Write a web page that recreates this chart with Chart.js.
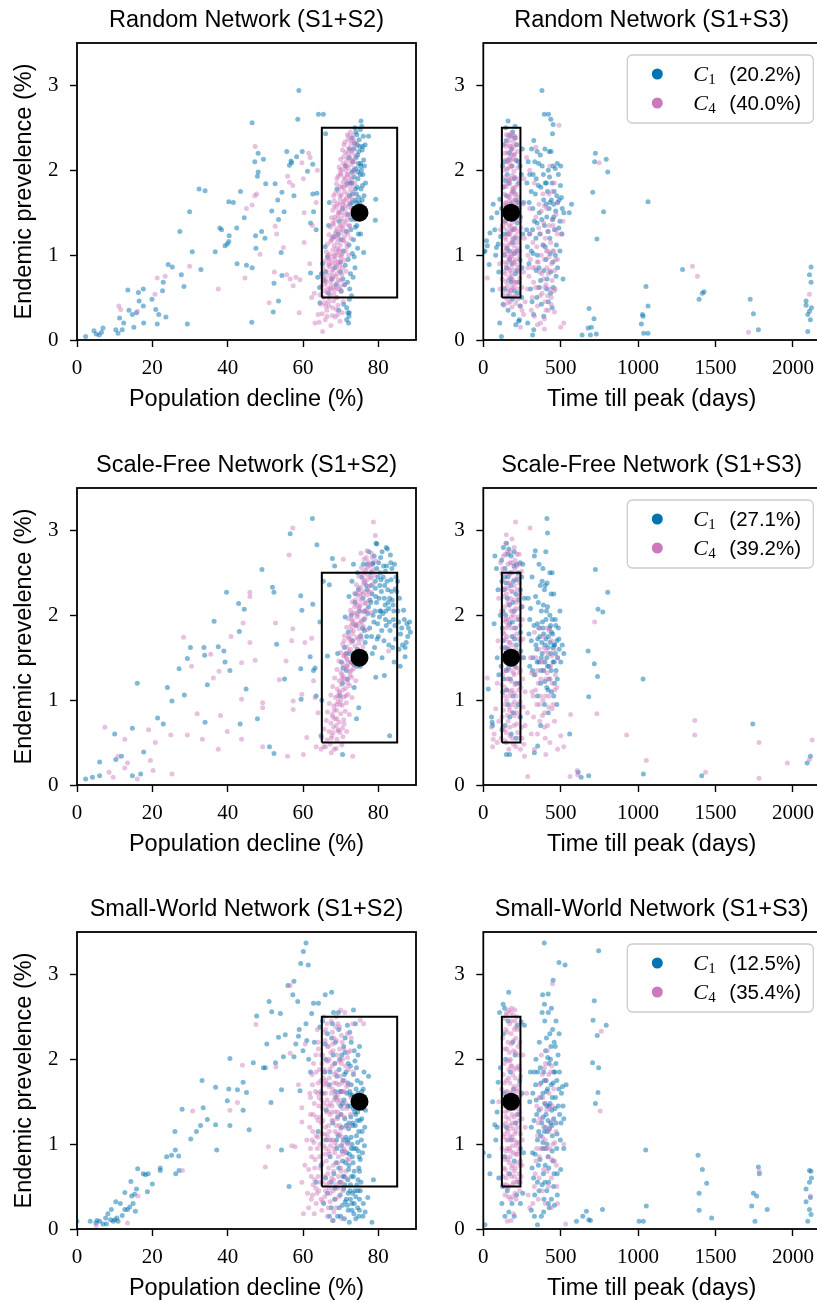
<!DOCTYPE html>
<html><head><meta charset="utf-8">
<script src="https://cdn.jsdelivr.net/npm/chart.js@4/dist/chart.umd.min.js"></script>
<style>
html,body{margin:0;padding:0;background:#fff;overflow:hidden;width:817px;height:1302px;position:relative;}
canvas{position:absolute;display:block;}
</style></head><body>
<canvas id="c0" width="420" height="444" style="left:0;top:0;width:420px;height:444px"></canvas>
<canvas id="c1" width="410" height="444" style="left:410px;top:0;width:410px;height:444px"></canvas>
<canvas id="c2" width="420" height="444" style="left:0;top:445px;width:420px;height:444px"></canvas>
<canvas id="c3" width="410" height="444" style="left:410px;top:445px;width:410px;height:444px"></canvas>
<canvas id="c4" width="420" height="444" style="left:0;top:889px;width:420px;height:444px"></canvas>
<canvas id="c5" width="410" height="444" style="left:410px;top:889px;width:410px;height:444px"></canvas>
<script>
// ---------- tick labels, boxes, targets ----------
const xTicksDecline = [0,20,40,60,80];
const xTicksDays = [0,500,1000,1500,2000];
const yTicks = [0,1,2,3];
const boxDecline = [[65,0.5],[85,0.5],[85,2.5],[65,2.5],[65,0.5]];
const boxDays = [[120,0.5],[240,0.5],[240,2.5],[120,2.5],[120,0.5]];
const targetDecline = [[75,1.5]];
const targetDays = [[180,1.5]];
const titles = ['Random Network (S1+S2)','Random Network (S1+S3)','Scale-Free Network (S1+S2)','Scale-Free Network (S1+S3)','Small-World Network (S1+S2)','Small-World Network (S1+S3)'];
const legendRandom = ['20.2%','40.0%'];
const legendScaleFree = ['27.1%','39.2%'];
const legendSmallWorld = ['12.5%','35.4%'];

// ---------- Random network, S1+S2 ----------
const rndS2_C1 = [[2.3,0.04],[4.5,0.11],[5.1,0.07],[5.9,0.06],[6.5,0.09],[6.9,0.14],[10.3,0.12],[10.9,0.08],[12.0,0.12],[11.3,0.26],[12.4,0.2],[13.5,0.59],[13.8,0.35],[14.7,0.3],[15.1,0.15],[15.8,0.32],[16.3,0.56],[16.5,0.46],[17.6,0.6],[17.6,0.4],[17.7,0.2],[19.9,0.48],[20.9,0.36],[21.3,0.19],[21.7,0.3],[22.7,0.58],[22.9,0.68],[23.6,0.27],[24.2,0.89],[25.3,0.86],[27.3,1.28],[27.7,0.77],[28.4,0.63],[29.3,0.19],[29.9,1.51],[30.6,1.04],[32.4,1.78],[34.0,1.76],[32.9,0.83],[36.7,1.04],[37.9,1.32],[38.4,1.3],[39.3,1.11],[39.9,1.13],[40.3,1.16],[40.4,1.23],[40.3,1.63],[41.5,1.62],[42.4,1.32],[43.4,1.75],[42.5,0.9],[44.4,1.44],[45.0,0.88],[46.5,0.85],[46.4,0.21],[46.5,2.56],[47.2,2.1],[48.1,2.2],[48.1,1.98],[47.9,1.93],[49.5,2.13],[47.4,1.23],[49.0,1.28],[47.5,1.08],[49.9,1.2],[50.1,1.84],[51.7,1.52],[52.1,0.33],[52.3,0.67],[52.6,1.84],[53.5,1.42],[53.5,0.46],[53.3,1.65],[54.4,1.74],[54.2,1.03],[54.4,0.76],[55.0,1.51],[55.7,2.22],[56.4,2.06],[56.8,2.11],[57.0,2.09],[57.6,1.7],[58.6,2.6],[58.9,2.94],[58.3,2.16],[59.8,2.22],[61.2,1.99],[62.6,2.07],[62.6,1.72],[62.0,1.38],[62.0,0.79],[63.7,1.73],[63.5,1.3],[63.9,0.74],[64.1,2.66],[65.4,2.66],[66.0,2.43],[62.8,1.51],[64.5,0.44],[71.9,0.32],[72.2,0.28],[71.6,0.24],[72.1,0.2],[72.3,0.32],[75.4,2.58],[77.4,2.4],[79.3,1.66],[79.2,1.41],[76.1,1.03],[75.6,2.52],
[69.5,0.35],[70.8,0.42],[71.6,0.38],[72.3,0.48],[66.8,0.55],[70.1,0.58],[72.9,0.52],
[64.4,0.62],[64.9,0.78],[65.6,0.7],[65.2,0.9],[66.5,0.98],[68.8,0.65],[70.6,0.72],[71.8,0.68],[72.6,0.78],[73.3,0.74],[71.2,0.88],[72.0,0.95],[69.9,0.92],[73.8,0.85],
[65.9,1.1],[66.8,1.35],[68.2,1.22],[69.6,1.4],[70.7,1.05],[71.5,1.28],[72.2,1.12],[72.8,1.42],[73.4,1.18],[73.9,1.33],[74.5,1.08],[74.9,1.45],[75.3,1.25],[71.9,1.48],[70.1,1.18],[73.1,1.02],
[67.0,1.62],[69.0,1.78],[70.5,1.55],[71.7,1.85],[72.5,1.6],[73.1,1.72],[73.6,1.92],[74.0,1.55],[74.4,1.8],[74.8,1.68],[75.2,1.95],[75.5,1.58],[75.8,1.82],[76.2,1.7],[73.8,1.65],[72.9,1.98],[74.6,1.98],
[71.3,2.05],[72.4,2.25],[73.2,2.1],[73.7,2.32],[74.1,2.02],[74.5,2.18],[74.9,2.36],[75.3,2.08],[75.7,2.24],[76.1,2.12],[76.5,2.3],[73.0,2.38],[74.3,2.42],[75.5,2.0],[73.8,2.5],[75.2,2.48],[76.0,2.4],
[74.2,1.72],[74.7,2.08],[75.0,1.62],[73.5,2.0],[74.3,1.35],[72.6,1.85],[75.9,1.95],[73.3,1.55],[74.8,2.22],[75.4,1.78],
[73.1,1.62],[73.9,1.78],[74.6,1.9],[75.3,2.05],[74.1,2.15],[74.9,1.52],[75.7,1.65],[73.5,2.25],[74.4,2.3],[75.1,2.28],[76.3,2.05],[73.8,1.42],[74.7,1.25],[72.7,1.3],[73.6,0.98],[72.4,0.6],[71.0,0.65],[70.0,0.8],[69.3,1.25],[68.4,0.85],[67.6,0.72],[66.0,0.8],[72.1,2.15],[75.9,2.28],[76.6,1.85],[74.0,2.45],[75.6,1.45],[72.3,1.7],[73.0,1.85],[74.3,1.62]];
const rndS2_C4 = [[11.1,0.4],[11.6,0.36],[16.0,0.34],[20.7,0.54],[21.3,0.73],[23.4,0.75],[29.9,0.87],[37.5,0.6],[44.6,0.73],[45.0,1.55],[46.5,1.59],[47.2,1.7],[47.7,1.72],[47.3,2.28],[48.6,1.01],[51.0,0.44],[52.4,0.8],[52.6,1.34],[53.0,1.25],[54.8,1.09],[55.7,0.77],[55.9,1.93],[56.4,1.86],[56.6,0.72],[57.3,1.82],[57.4,0.64],[58.1,0.74],[59.0,0.32],[59.2,0.71],[59.7,2.09],[60.1,1.9],[60.3,1.15],[60.3,1.5],[61.9,2.15],[62.3,0.5],[63.2,0.2],[65.2,0.1],[61.5,2.2],[62.5,1.35],[63.0,0.55],[63.5,1.62],[64.0,0.3],[61.8,0.9],[63.8,2.0],
[64.3,0.21],[65.9,0.24],[67.4,0.17],[68.6,0.27],[69.8,0.22],[65.1,0.31],[66.3,0.35],[67.8,0.29],[68.9,0.36],[70.4,0.32],
[64.7,0.42],[65.8,0.44],[66.9,0.4],[68.1,0.46],[69.3,0.41],[70.7,0.45],[64.5,0.53],[65.5,0.5],[66.4,0.56],[67.3,0.52],[68.2,0.55],[69.1,0.5],[70.2,0.57],
[64.9,0.63],[65.8,0.66],[66.6,0.61],[67.5,0.65],[68.3,0.62],[69.0,0.67],[69.9,0.63],[71.1,0.65],[65.3,0.74],[66.0,0.71],[67.0,0.76],[67.8,0.72],[68.6,0.75],[69.4,0.71],[70.3,0.77],
[65.4,0.84],[66.3,0.81],[67.2,0.86],[68.0,0.83],[68.9,0.87],[69.6,0.82],[70.5,0.85],[71.4,0.81],[65.9,0.93],[66.8,0.96],[67.7,0.91],[68.5,0.95],[69.3,0.92],[70.1,0.97],[71.0,0.94],
[66.2,1.04],[67.1,1.01],[67.9,1.06],[68.8,1.03],[69.6,1.07],[70.4,1.02],[71.3,1.05],[72.1,1.0],[66.5,1.13],[67.4,1.16],[68.3,1.11],[69.1,1.15],[69.9,1.12],[70.8,1.17],[71.6,1.14],
[66.9,1.24],[67.8,1.21],[68.6,1.26],[69.4,1.23],[70.2,1.27],[71.0,1.22],[71.9,1.25],[72.7,1.2],[67.3,1.33],[68.1,1.36],[69.0,1.31],[69.8,1.35],[70.6,1.32],[71.4,1.37],[72.3,1.34],
[67.6,1.44],[68.5,1.41],[69.3,1.46],[70.1,1.43],[70.9,1.47],[71.7,1.42],[72.6,1.45],[67.9,1.53],[68.8,1.56],[69.6,1.51],[70.4,1.55],[71.2,1.52],[72.0,1.57],[72.9,1.54],
[68.3,1.64],[69.1,1.61],[69.9,1.66],[70.7,1.63],[71.5,1.67],[72.3,1.62],[73.1,1.65],[68.6,1.73],[69.4,1.76],[70.2,1.71],[71.0,1.75],[71.8,1.72],[72.6,1.77],[73.4,1.74],
[68.9,1.84],[69.8,1.81],[70.6,1.86],[71.4,1.83],[72.2,1.87],[73.0,1.82],[73.8,1.85],[69.3,1.93],[70.1,1.96],[70.9,1.91],[71.7,1.95],[72.5,1.92],[73.3,1.97],
[69.6,2.04],[70.4,2.01],[71.2,2.06],[72.0,2.03],[72.8,2.07],[73.6,2.02],[70.0,2.13],[70.8,2.16],[71.6,2.11],[72.4,2.15],[73.2,2.12],[74.0,2.17],
[70.5,2.24],[71.3,2.21],[72.1,2.26],[72.9,2.23],[73.7,2.27],[71.1,2.33],[71.9,2.36],[72.7,2.31],[73.5,2.35],[74.2,2.32],[71.8,2.42],[72.6,2.45],[73.4,2.41],
[67.5,0.6],[68.6,0.9],[69.2,1.2],[70.0,1.5],[70.8,1.8],[68.0,0.75],[69.5,1.05],[70.3,1.35],[71.2,1.65],[71.9,1.95],[66.8,0.45],[68.3,1.0],[69.7,1.6],[71.5,2.05],[67.0,0.9],
[66.4,0.28],[67.9,0.38],[69.2,0.3],[65.6,0.58],[66.9,0.5],[68.7,0.6],[66.2,0.68],[67.7,0.8],[69.1,0.78],[70.0,0.7],[66.7,0.88],[68.2,0.98],[69.7,0.88],[67.1,0.95],[68.9,1.08],[70.2,1.0],[67.5,1.18],[68.9,1.28],[70.5,1.18],[71.5,1.28],[67.9,1.38],[69.4,1.5],[70.8,1.4],[72.0,1.48],[68.3,1.58],[69.8,1.7],[71.2,1.58],[72.5,1.68],[69.0,1.9],[70.4,1.8],[71.8,1.82],[73.0,1.9],[69.9,2.0],[71.4,2.0],[72.7,2.12],[70.9,2.3],[72.2,2.4],[73.0,2.2],[68.0,1.2],[69.3,1.0],[70.6,1.6],[71.9,2.2],[67.4,0.7],[68.7,0.5],[70.1,1.3],[71.3,1.9],[66.0,0.4],[67.2,0.6],[68.5,1.45],[69.9,1.95],[70.7,2.08],[72.4,1.35],[71.7,1.1],[73.6,2.1],[69.5,0.6],[66.6,1.0],[72.9,2.35],[65.7,0.75],[68.1,1.7],[70.0,0.92]];

// ---------- Random network, S1+S3 ----------
const rndS3_C1 = [[379,2.94],[394,2.66],[421,2.66],[436,2.6],[451,2.54],[326,2.35],[347,2.22],[426,2.22],[447,2.43],[724,2.2],[719,2.1],[794,2.13],[804,1.98],[707,1.74],[777,1.51],[734,1.19],[1064,1.63],[1287,0.83],[1051,0.63],[1064,0.4],[1028,0.3],[1032,0.28],[1021,0.19],[1036,0.08],[1064,0.08],[1426,0.57],[1415,0.55],[1394,0.48],[1724,0.48],[1745,0.31],[1777,0.12],[2085,0.46],[2117,0.86],[2107,0.77],[2117,0.68],[2107,0.34],[2096,0.3],[2113,0.24],[2096,0.1],[2085,0.41],[2120,0.38],[683,0.37],[715,0.25],[677,0.14],[698,0.15],[730,0.07],[692,0.06],[638,0.06],[319,0.06],[326,0.12],[287,0.2],[234,0.24],[106,0.2],[117,0.04],[21,1.17],[43,1.26],[53,1.44],[74,1.3],[38,0.89],[60,0.59],[96,1.13],[26,1.11],[11,1.05],[85,1.09],[89,1.5],[106,1.66],[5,1.04],[64,1.6],[100,0.8],[80,1.0],
[130,2.3],[145,2.5],[160,2.58],[175,2.4],[190,2.45],[205,2.52],[215,2.3],[138,2.1],[155,1.95],[170,2.2],[185,2.05],[200,1.9],[225,2.1],[130,1.8],[150,1.7],[165,1.85],[180,1.6],[195,1.75],[210,1.65],[230,1.55],[140,1.4],[158,1.25],[172,1.45],[188,1.3],[205,1.2],[220,1.38],[240,1.45],[135,1.0],[150,0.85],[168,1.05],[185,0.9],[200,1.02],[218,0.82],[235,0.95],[140,0.6],[160,0.52],[180,0.68],[200,0.58],[222,0.55],[160,0.35],[195,0.3],[238,0.4],[250,0.85],[255,1.25],[260,1.62],[248,0.5],[228,0.22],[210,0.18],
[125,2.05],[148,2.35],[168,1.52],[183,2.25],[197,1.42],[212,2.12],[228,1.85],[133,1.25],[152,1.08],[177,0.72],[192,1.15],[208,0.78],[223,1.62],[237,2.05],[118,1.55],[143,1.88],[162,2.12],[187,0.48],[203,2.38],[218,1.05],[232,0.68],[128,0.42],[246,1.95],[112,1.22],[252,2.25],[170,0.95],[155,1.58],
[290,2.1],[300,1.95],[310,1.75],[320,1.55],[330,1.4],[340,1.2],[350,1.0],[360,0.85],[370,0.7],[280,1.3],[285,1.1],[295,0.9],[305,0.6],[315,0.45],[325,0.3],[345,0.5],[362,1.5],[372,1.8],[380,2.05],[390,1.65],[395,1.35],[400,1.1],[405,0.95],[410,1.45],[415,1.75],[420,2.0],[425,1.55],[430,1.2],[435,0.8],[440,1.65],[445,1.85],[450,2.05],[455,1.6],[460,1.3],[465,1.0],[470,0.75],[475,1.7],[480,1.62],[485,1.95],[490,1.65],[495,1.4],[500,2.05],[505,1.68],[510,1.55],[515,0.72],[520,1.5],[358,2.08],[342,1.9],[333,2.1],[318,1.3],[410,0.6],[420,0.45],[435,0.55],[445,0.38],[390,0.28],[375,0.42],[400,1.85],[465,2.02],[455,1.45],[430,1.62],[405,1.6],[385,1.12],[365,1.25],[300,1.25],[310,1.05],[495,1.05],[480,0.85],[450,0.92],[555,1.5],[570,1.6],
[282,1.85],[296,1.62],[312,2.25],[322,1.95],[336,1.72],[348,1.38],[355,1.82],[368,2.18],[378,1.42],[388,1.95],[398,2.25],[408,1.85],[418,1.28],[428,1.92],[438,2.22],[448,1.42],[458,1.75],[468,1.52],[478,2.08],[488,1.32],[498,1.82],[508,1.25],[392,0.82],[412,0.72],[432,1.02],[452,0.62],[472,1.12],[362,0.62],[342,0.82],[322,1.02]];
const rndS3_C4 = [[489,2.53],[340,2.27],[749,2.09],[1351,0.87],[1383,0.75],[1713,0.09],[2107,0.54],[26,0.73],[520,0.2],[500,0.15],[288,0.85],[260,0.3],[240,0.15],[470,1.3],[505,1.25],[515,1.4],[350,0.18],[370,0.2],[395,0.13],[460,0.33],[430,2.05],[300,2.0],[280,2.15],[330,1.85],
[135,0.41],[160,0.44],[185,0.39],[210,0.43],[240,0.4],[125,0.52],[150,0.49],[172,0.54],[196,0.51],[222,0.48],[130,0.61],[155,0.64],[178,0.59],[200,0.63],[226,0.6],[250,0.62],
[122,0.72],[145,0.69],[168,0.74],[190,0.71],[213,0.68],[236,0.73],[133,0.81],[157,0.84],[180,0.79],[204,0.82],[228,0.8],[126,0.92],[148,0.89],[170,0.94],[193,0.91],[216,0.88],[240,0.93],
[138,1.01],[161,1.04],[184,0.99],[207,1.03],[230,1.0],[128,1.12],[152,1.09],[175,1.14],[198,1.11],[221,1.08],[140,1.21],[164,1.24],[187,1.19],[210,1.23],[234,1.2],
[131,1.32],[155,1.29],[178,1.34],[201,1.31],[224,1.28],[143,1.41],[166,1.44],[190,1.39],[213,1.43],[237,1.4],[134,1.52],[158,1.49],[181,1.54],[204,1.51],[227,1.48],
[146,1.61],[169,1.64],[192,1.59],[216,1.63],[137,1.72],[161,1.69],[184,1.74],[207,1.71],[230,1.68],[149,1.81],[172,1.84],[195,1.79],[219,1.83],
[140,1.92],[164,1.89],[187,1.94],[210,1.91],[152,2.01],[175,2.04],[198,1.99],[222,2.03],[143,2.12],[167,2.09],[190,2.14],[213,2.11],
[155,2.21],[178,2.24],[201,2.19],[147,2.32],[170,2.29],[193,2.34],[215,2.3],[160,2.41],[183,2.44],[205,2.4],
[105,0.9],[110,1.3],[260,0.8],[265,1.2],[255,1.6],[108,0.6],[270,0.45],[250,0.35],[262,1.9],
[150,2.42],[165,2.35],[180,2.28],[195,2.4],[170,2.15],[185,2.05],[200,2.18],[155,2.1],[140,2.2],[175,1.9],[188,1.78],[200,1.65],[145,1.62],[170,1.68],[182,1.62],[205,1.8],
[145,1.38],[172,1.25],[185,1.45],[198,1.3],[168,1.35],[178,1.52],[195,1.2],[155,0.92],[180,0.85],[192,1.05],[205,0.95],[175,0.98],[185,1.15],[162,0.7],[175,0.58],[200,0.68],[185,0.75],
[128,0.55],[142,0.78],[158,0.58],[172,0.82],[186,0.62],[202,0.92],[218,0.68],[232,0.85],[132,1.05],[146,1.18],[162,0.98],[176,1.28],[190,1.02],[206,1.32],[222,1.15],[236,1.05],[136,1.58],[150,1.45],[166,1.52],[180,1.72],[196,1.55],[212,1.72],[226,1.58],[140,1.82],[156,2.02],[170,1.88],[186,2.18],[202,1.92],[218,2.22],[148,2.28],[164,2.42],[180,2.12],[196,2.28],[210,2.38],[124,1.35],[244,1.32],[130,2.0],[236,1.9],[160,1.12],[192,1.42],[174,0.45],[208,0.52],
[285,0.6],[295,0.75],[305,0.95],[315,0.5],[325,0.68],[335,0.85],[345,1.1],[355,0.62],[365,0.8],[375,1.0],[380,0.55],[390,0.72],[395,0.95],[400,1.2],[405,0.65],[410,0.85],[415,1.05],[420,0.78],[425,0.98],[430,0.6],[435,1.15],[440,0.9],[445,0.7],[450,1.35],[455,1.05],[460,0.82],[470,1.48],[480,0.95],[340,1.45],[360,1.6],[385,1.72],[410,1.55],[425,1.35],[445,1.75],[390,1.38],[370,1.25],[350,0.4],[400,0.45],[420,0.35],[330,0.28],[310,0.35],[440,0.5],[465,0.6],[395,0.25],[460,1.85],[480,1.62],[300,1.55],[320,1.15],
[288,1.0],[298,1.25],[318,0.85],[338,0.62],[348,0.92],[358,1.32],[368,0.52],[378,0.78],[388,1.12],[398,0.62],[408,1.05],[418,1.28],[428,0.82],[438,0.42],[448,1.05],[458,0.58],[468,0.95],[478,1.25],[405,0.35],[375,1.52],[425,1.72],[395,1.58],[355,0.92],[415,0.52],[445,1.42]];

// ---------- Scale-free network, S1+S2 ----------
const sfS2_C1 = [[2.3,0.07],[4.1,0.09],[6.0,0.11],[6.0,0.27],[10.0,0.6],[10.3,0.3],[11.8,0.34],[14.7,0.67],[14.7,0.11],[16.0,1.2],[16.9,0.13],[17.7,0.39],[21.4,0.79],[22.9,0.72],[24.0,1.15],[25.2,0.99],[27.1,1.37],[28.5,1.06],[29.3,1.49],[30.1,1.62],[33.7,1.62],[33.9,1.53],[34.0,0.74],[34.6,1.18],[36.4,1.93],[37.5,1.63],[39.0,1.58],[39.3,1.45],[40.6,1.35],[39.7,2.27],[42.9,2.14],[43.1,1.81],[43.3,0.72],[44.4,2.07],[44.9,1.13],[47.9,0.78],[49.1,2.54],[51.1,0.45],[51.9,2.33],[52.3,2.27],[52.3,0.37],[53.0,1.66],[55.1,1.25],[56.6,2.96],[59.4,2.23],[59.7,2.06],[59.4,1.37],[59.5,1.01],[61.9,1.51],[62.5,3.14],[63.7,2.83],[62.6,2.13],[62.8,1.35],[63.2,1.38],[63.5,1.05],[64.5,1.92],[64.8,0.58],[65.4,2.4],[67.0,2.36],[67.8,2.67],[68.4,2.58],[70.5,0.36],[73.4,2.6],[74.8,0.91],[74.2,0.78],[83.0,0.58],[81.6,1.29],[79.3,1.27],[85.8,1.4],[87.1,1.51],[87.1,1.62],[88.0,1.85],[88.5,1.8],[87.6,1.9],[86.7,2.06],[85.4,1.92],[84.5,2.31],[83.6,2.55],[83.2,2.71],[82.1,2.8],[79.6,2.84],[65.0,1.0],[66.5,1.52],
[70.2,1.45],[71.0,1.62],[71.5,1.35],[72.0,1.8],[72.4,1.55],[72.8,2.0],[73.2,1.7],[73.5,1.42],[73.8,2.15],[74.1,1.88],[74.4,1.6],[74.7,2.3],[75.0,2.05],[75.3,1.75],[75.6,2.45],[75.9,2.2],[76.2,1.95],[76.5,1.68],[76.8,2.35],[77.1,2.6],[77.4,2.1],[77.7,1.85],[78.0,2.5],[78.3,2.25],[78.6,2.0],[78.9,2.7],[79.2,2.4],[79.5,2.15],[79.8,1.9],[80.1,2.62],[80.4,2.35],[80.7,2.05],[81.0,2.75],[81.3,2.45],[81.6,2.2],[81.9,1.95],[82.2,2.58],[82.5,2.3],[82.8,2.08],[83.1,1.82],[83.4,2.42],[83.7,2.18],[84.0,1.95],[84.3,2.6],[84.6,1.72],[84.9,2.28],[85.2,2.05],[85.5,1.6],[80.0,1.75],[79.0,1.62],[81.5,1.7],[82.0,2.05],[83.0,2.2],[80.5,2.5],[79.4,2.85],[77.5,2.75],[76.0,2.6],[74.5,2.5],[73.0,2.4],[72.2,2.22],[71.2,1.98],[70.5,1.2],[69.8,1.05],[69.2,1.55],[71.8,1.25],[73.6,1.15],[75.2,1.4],[76.6,1.52],[78.2,1.75],[81.0,1.5],[82.8,1.65],[84.2,1.45],[77.0,2.3],[78.5,2.6],[80.2,2.2],[76.4,2.05],[74.0,2.25],[82.4,2.78],[79.6,2.55],[75.8,1.85],
[76.3,1.82],[77.2,2.02],[78.1,2.35],[78.8,1.92],[79.3,2.22],[79.9,2.45],[80.3,1.98],[80.8,2.28],[81.4,2.58],[81.8,2.12],[82.3,2.4],[82.9,1.92],[83.5,2.28],[84.1,2.05],[84.7,2.45],[85.6,2.2],[86.2,1.85],[77.8,2.18],[78.6,2.62],[79.1,2.05],[80.6,2.68],[81.2,2.02],[82.6,2.15],[83.3,2.62],[84.4,1.88],[85.1,2.4],[80.9,1.82],[79.7,1.72],[78.4,1.55],[76.9,1.75],[75.5,1.5],[74.3,1.4],[72.8,1.45],[71.5,1.55],[70.6,1.38],[83.8,1.62],[86.4,1.65],[87.8,1.75],[81.7,2.35],[80.4,2.05],
[86.9,1.95],[88.3,1.92],[87.4,1.68],[85.9,1.78],[79.2,2.32],[80.7,2.42],[81.9,2.52],[78.0,2.15],[82.1,1.88],[83.9,2.12]];
const sfS2_C4 = [[7.4,0.68],[8.5,0.15],[9.6,0.09],[10.9,0.34],[12.7,0.54],[12.7,0.2],[13.4,0.26],[16.0,0.07],[19.0,0.65],[19.5,0.29],[20.2,0.17],[20.8,0.5],[25.2,0.13],[24.9,0.59],[28.3,1.74],[29.3,0.59],[30.4,1.4],[31.9,0.84],[33.3,0.54],[35.5,1.54],[36.2,1.26],[37.5,0.42],[37.7,1.34],[38.1,0.82],[39.9,0.63],[40.9,1.75],[43.7,1.44],[43.7,1.01],[43.7,0.54],[44.1,1.91],[45.9,2.27],[45.9,1.68],[47.3,1.47],[49.3,0.97],[49.3,0.91],[49.3,0.45],[52.7,1.91],[53.7,1.24],[55.5,1.46],[55.9,0.34],[56.3,2.71],[57.0,1.7],[57.3,1.84],[57.3,3.03],[57.4,0.99],[57.4,0.89],[59.7,1.07],[60.1,0.36],[60.5,1.68],[61.0,0.56],[62.3,1.73],[62.8,1.23],[63.2,1.03],[70.7,2.66],[73.2,0.34],[78.7,3.1],[79.2,2.94],[75.4,2.73],[82.7,1.58],[45.9,2.22],[64.0,0.85],[63.5,0.45],[64.8,0.42],[66.0,0.45],[67.5,0.38],[68.3,0.42],
[65.5,0.45],[67.2,0.48],[68.8,0.43],[70.3,0.47],[65.0,0.56],[66.4,0.53],[67.7,0.58],[69.0,0.54],[70.6,0.57],[65.6,0.66],[66.9,0.63],[68.1,0.68],[69.3,0.64],[70.5,0.67],[71.6,0.63],
[66.2,0.76],[67.4,0.73],[68.5,0.78],[69.6,0.74],[70.8,0.77],[66.5,0.86],[67.8,0.83],[68.9,0.88],[70.0,0.84],[71.2,0.87],[72.3,0.83],[67.0,0.96],[68.2,0.93],[69.3,0.98],[70.4,0.94],[71.5,0.97],
[67.4,1.06],[68.6,1.03],[69.7,1.08],[70.8,1.04],[71.9,1.07],[73.0,1.03],[67.9,1.16],[69.1,1.13],[70.2,1.18],[71.3,1.14],[72.4,1.17],[68.4,1.26],[69.6,1.23],[70.7,1.28],[71.8,1.24],[72.9,1.27],[74.0,1.23],
[69.0,1.36],[70.1,1.33],[71.2,1.38],[72.3,1.34],[73.4,1.37],[69.5,1.46],[70.6,1.43],[71.7,1.48],[72.8,1.44],[73.9,1.47],[75.0,1.43],[70.0,1.56],[71.1,1.53],[72.2,1.58],[73.3,1.54],[74.4,1.57],
[70.5,1.66],[71.6,1.63],[72.7,1.68],[73.8,1.64],[74.9,1.67],[75.9,1.63],[71.0,1.76],[72.1,1.73],[73.2,1.78],[74.3,1.74],[75.4,1.77],[71.6,1.86],[72.7,1.83],[73.8,1.88],[74.9,1.84],[76.0,1.87],[77.0,1.83],
[72.1,1.96],[73.2,1.93],[74.3,1.98],[75.4,1.94],[76.5,1.97],[72.6,2.06],[73.7,2.03],[74.8,2.08],[75.9,2.04],[77.0,2.07],[78.0,2.03],[73.1,2.16],[74.2,2.13],[75.3,2.18],[76.4,2.14],[77.5,2.17],
[73.7,2.26],[74.8,2.23],[75.9,2.28],[77.0,2.24],[78.1,2.27],[74.2,2.36],[75.3,2.33],[76.4,2.38],[77.5,2.34],[78.6,2.37],[74.8,2.46],[75.9,2.43],[77.0,2.48],[78.1,2.44],[79.1,2.47],
[75.5,2.56],[76.6,2.53],[77.7,2.58],[78.8,2.54],[76.2,2.66],[77.3,2.63],[78.4,2.68],[79.4,2.64],[77.0,2.76],[78.2,2.73],
[71.5,1.5],[72.6,1.72],[73.2,1.9],[74.6,2.0],[75.2,2.25],[76.4,2.4],[70.4,1.25],[69.6,1.1],[71.8,1.4],[73.7,2.1],[74.9,1.9],[76.6,2.15],[70.9,1.7],[72.9,2.02],[68.9,0.95],[77.8,2.45],[67.9,0.8],[69.4,0.65],
[67.5,0.55],[68.8,0.7],[69.8,0.62],[68.3,0.88],[69.9,0.95],[70.9,0.72],[69.2,1.05],[70.6,1.12],[71.9,1.2],[70.3,1.3],[71.6,1.4],[72.9,1.35],[71.3,1.55],[72.6,1.6],[73.8,1.52],[72.1,1.75],[73.4,1.82],[74.6,1.72],[73.0,1.95],[74.3,2.02],[75.6,1.92],[73.9,2.18],[75.2,2.12],[76.5,2.05],[74.8,2.32],[76.1,2.38],[77.3,2.28],[75.7,2.5],[77.0,2.56],[78.2,2.52],[76.8,2.68],[78.0,2.6],[70.0,1.0],[71.0,1.25],[72.0,1.45],[73.0,1.7],[74.0,1.9],[75.0,2.1],[76.0,2.25],[77.0,2.42],[69.0,0.78],[68.0,0.62],[72.5,1.3],[74.5,1.6],[76.5,2.5],[71.4,1.05],[73.5,1.42],[75.5,1.72],[70.8,1.52],[72.8,1.88]];

// ---------- Scale-free network, S1+S3 ----------
const sfS3_C1 = [[411,3.14],[415,2.97],[336,2.76],[404,2.75],[724,2.54],[804,2.27],[741,2.07],[772,2.04],[677,1.58],[717,1.43],[738,1.28],[681,1.04],[1032,1.25],[558,0.6],[613,0.15],[632,0.09],[681,0.11],[1034,0.13],[1411,0.11],[1741,0.72],[2092,0.26],[2113,0.34],[32,1.13],[53,0.8],[57,0.74],[149,0.36],[170,0.36],[351,0.46],[330,0.38],[90,1.5],[60,0.7],[75,2.7],[85,2.55],[95,2.3],[100,1.3],[70,1.9],[240,0.8],
[130,2.8],[150,2.85],[165,2.78],[180,2.7],[200,2.75],[215,2.6],[140,2.55],[160,2.45],[175,2.5],[195,2.4],[225,2.5],[135,2.3],[155,2.2],[190,2.15],[210,2.25],[240,2.3],[145,2.0],[170,1.9],[200,2.05],[230,1.95],[250,2.1],[130,1.7],[160,1.6],[185,1.75],[215,1.65],[240,1.8],[150,1.35],[175,1.25],[205,1.4],[235,1.2],[125,1.1],[160,0.95],[195,0.85],[225,0.95],[140,0.7],[180,0.6],[210,0.55],[120,0.65],[260,1.5],[255,2.6],[265,2.2],[110,2.0],[115,1.4],[120,2.4],
[118,2.65],[138,2.45],[158,2.72],[178,2.35],[198,2.58],[218,2.42],[238,2.62],[128,2.05],[148,2.38],[168,2.12],[188,1.92],[208,1.85],[228,2.18],[248,2.45],[122,1.85],[142,1.62],[162,1.38],[182,1.52],[202,1.72],[222,1.48],[242,1.58],[132,1.25],[152,1.12],[172,0.8],[192,1.05],[212,1.2],
[290,2.2],[300,1.95],[310,1.7],[320,1.5],[330,1.3],[340,1.65],[350,1.9],[355,2.15],[360,1.45],[365,1.75],[370,1.2],[375,2.05],[380,1.55],[385,1.85],[390,1.35],[395,2.3],[400,1.65],[405,1.95],[410,1.5],[415,2.1],[420,1.75],[425,1.25],[430,2.0],[435,1.55],[440,1.8],[445,2.5],[450,1.45],[455,2.25],[460,1.65],[465,1.95],[470,1.35],[475,1.7],[480,1.5],[485,1.85],[490,1.6],[495,2.05],[500,1.45],[510,1.65],[520,1.55],[385,2.55],[400,2.35],[430,2.5],[380,2.4],[410,1.15],[440,1.1],[460,1.2],[395,0.95],[420,0.85],[370,0.7],[350,1.05],[300,1.4],[315,2.45],[330,2.7],[360,2.6],[455,1.05],[475,0.95],[345,1.6],[425,1.4],[405,1.72],[435,1.88],[450,1.62],[390,1.78],[415,1.4],[465,1.55],[375,1.5],
[295,1.78],[305,2.08],[318,1.35],[328,1.88],[338,2.22],[348,1.45],[358,1.85],[368,2.35],[378,1.68],[388,2.12],[398,1.45],[408,2.05],[418,1.62],[428,1.85],[438,2.25],[448,1.78],[458,1.45],[468,1.88],[478,1.25],[488,1.72],[398,1.22],[418,1.12],[438,1.35],[458,1.65],[372,1.35],[352,1.72],[412,2.38],[432,1.68],[445,1.95],[382,1.92]];
const sfS3_C4 = [[26,1.26],[53,0.68],[64,0.54],[209,3.1],[302,3.03],[149,2.95],[719,1.92],[734,0.84],[564,0.83],[500,0.58],[926,0.59],[1366,0.76],[1366,0.59],[1436,0.15],[1053,0.29],[1781,0.5],[1781,0.08],[1964,0.26],[2124,0.53],[2107,0.3],[606,0.17],[287,0.1],[266,0.34],[404,0.36],[60,0.45],[80,0.9],[90,1.2],[70,0.6],[100,2.2],[95,1.7],[520,0.45],[480,0.42],[330,0.42],[560,0.1],[610,0.12],
[130,2.7],[145,2.85],[160,2.6],[175,2.75],[190,2.5],[205,2.65],[220,2.45],[150,2.5],[185,2.9],[235,2.6],[120,2.5],[200,2.8],
[125,2.3],[138,2.1],[150,2.25],[162,1.95],[175,2.2],[188,2.05],[200,2.35],[212,2.15],[225,1.98],[238,2.25],[145,1.92],[170,2.38],[195,2.0],[218,2.3],[250,2.1],[132,1.95],[182,2.28],[160,2.15],
[128,1.8],[140,1.6],[152,1.75],[165,1.5],[178,1.85],[190,1.65],[202,1.45],[215,1.78],[228,1.55],[240,1.7],[135,1.45],[160,1.88],[185,1.42],[210,1.6],[250,1.5],[172,1.68],[198,1.85],[145,1.55],
[125,1.3],[138,1.15],[150,1.0],[162,1.25],[175,1.1],[188,0.95],[200,1.3],[212,1.05],[225,1.2],[238,0.98],[150,1.35],[180,1.35],[205,1.18],[255,1.25],[270,1.1],[168,0.92],[220,1.38],[140,0.95],
[122,0.8],[135,0.65],[148,0.5],[160,0.75],[172,0.58],[185,0.85],[198,0.7],[210,0.45],[222,0.62],[235,0.8],[250,0.55],[270,0.7],[115,0.55],[165,0.42],[195,0.48],[240,0.42],[285,0.85],[130,0.88],[100,0.75],[90,0.5],
[112,2.62],[128,2.42],[142,2.72],[158,2.38],[173,2.62],[188,2.28],[203,2.55],[218,2.72],[233,2.38],[248,2.52],[118,2.05],[133,2.22],[148,1.85],[163,2.32],[178,2.05],[193,1.75],[208,2.08],[223,2.22],[238,1.88],[253,1.95],[120,1.62],[136,1.78],[151,1.45],[166,1.68],[181,1.58],[196,1.32],[211,1.52],[226,1.72],[241,1.35],[256,1.72],[122,1.18],[138,1.35],[153,1.12],[168,1.05],[183,1.22],[198,1.08],[213,0.92],[228,1.12],[243,1.15],[258,0.92],[125,0.68],[140,0.52],[155,0.82],[170,0.68],[186,0.55],[201,0.82],[216,0.72],[231,0.55],[246,0.68],[262,0.48],
[126,2.55],[142,2.32],[156,2.75],[170,2.48],[186,2.62],[200,2.42],[216,2.58],[232,2.72],[134,2.02],[150,1.95],[166,2.12],[182,1.98],[198,2.18],[214,1.95],[230,2.08],[130,1.52],[146,1.72],[162,1.62],[178,1.42],[194,1.58],[210,1.38],[226,1.48],[138,1.05],[154,1.25],[170,0.88],[186,1.12],[202,0.98],[218,0.85],[234,1.32],[148,0.62],
[305,1.5],[315,1.1],[325,0.8],[335,1.3],[345,0.95],[355,1.2],[365,0.75],[375,1.45],[385,1.0],[395,0.85],[405,1.25],[415,0.7],[425,1.05],[435,1.4],[445,0.9],[455,1.6],[465,1.3],[475,1.15],[385,1.75],[410,1.85],[440,1.7],[360,1.6],[330,1.8],[400,0.55],[430,0.5],[350,0.6],[460,0.75],[420,1.55],[390,1.35],[370,1.05],[310,0.6],[480,1.5],[445,1.2],[340,1.5],
[312,1.32],[322,1.05],[338,1.12],[348,1.35],[362,0.95],[372,1.25],[382,0.82],[392,1.62],[402,1.05],[412,1.32],[422,0.92],[432,1.25],[442,1.52],[452,0.95],[462,1.12],[388,1.45],[405,1.58],[425,1.82],[365,1.85],[395,0.68]];

// ---------- Small-world network, S1+S2 ----------
const swS2_C1 = [[0,0.09],[3.5,0.09],[5.0,0.07],[5.3,0.1],[6.0,0.09],[6.9,0.06],[7.6,0.13],[7.8,0.06],[8.9,0.11],[9.1,0.23],[9.6,0.09],[10.0,0.11],[10.3,0.32],[10.6,0.13],[10.9,0.09],[12.7,0.43],[12.7,0.23],[13.4,0.23],[14.0,0.26],[14.3,0.56],[14.5,0.39],[14.9,0.3],[15.3,0.41],[15.5,0.21],[15.8,0.47],[16.1,0.71],[17.6,0.65],[18.2,0.64],[18.9,0.65],[18.7,0.44],[20.0,0.53],[22.1,0.72],[22.1,0.69],[23.8,0.85],[25.1,0.87],[26.1,0.93],[26.2,0.65],[27.0,0.86],[27.1,0.69],[26.0,1.15],[27.9,1.41],[30.2,1.06],[31.7,1.15],[32.8,1.22],[33.2,1.75],[33.5,1.43],[34.6,1.29],[36.8,1.67],[36.8,1.23],[37.1,0.93],[39.9,1.51],[40.3,1.65],[40.6,2.01],[40.6,1.22],[42.6,1.64],[44.1,1.73],[44.1,1.4],[45.0,1.61],[45.7,1.17],[46.8,1.96],[47.7,2.51],[49.5,1.9],[50.0,1.9],[50.4,2.18],[51.0,2.68],[51.5,1.49],[51.7,2.56],[52.7,1.96],[53.5,2.26],[54.0,2.54],[54.3,1.64],[54.3,0.93],[54.8,2.03],[55.3,2.29],[56.0,2.87],[56.3,0.5],[57.3,2.76],[57.6,2.92],[57.6,2.03],[58.1,2.18],[58.6,2.68],[58.8,2.27],[59.4,3.13],[59.2,1.63],[60.1,3.27],[60.8,3.37],[61.4,3.11],[60.8,2.42],[61.0,2.22],[62.3,2.54],[62.8,2.66],[64.1,2.66],[64.5,2.38],[65.9,2.76],[67.6,2.79],[65.9,2.18],[68.1,2.55],[73.4,2.58],[77.4,1.8],[78.7,0.58],[78.3,0.08],[77.2,0.37],[75.9,0.15],[75.2,0.45],[59.0,2.35],[60.0,2.1],[62.0,1.85],[61.5,2.0],[63.0,2.2],[64.0,1.15],[63.5,0.55],[11.5,0.3],[8.2,0.18],[12.0,0.16],
[65.2,2.45],[66.5,2.3],[67.8,2.42],[68.6,2.2],[69.5,2.35],[70.3,2.05],[71.2,2.25],[72.0,1.95],[72.8,2.2],[73.6,2.1],[74.2,1.9],[75.0,2.15],[66.0,2.0],[67.2,1.85],[68.0,2.05],[71.8,2.4],[73.9,2.42],
[65.0,1.6],[66.2,1.4],[67.0,1.7],[67.9,1.25],[68.7,1.55],[69.4,1.1],[70.0,1.45],[70.6,1.75],[71.1,1.3],[71.6,1.6],[72.0,1.05],[72.4,1.45],[72.8,1.7],[73.2,1.25],[73.6,1.55],[74.0,1.35],[74.4,1.75],[74.8,1.15],[75.2,1.5],[75.6,1.3],[76.0,1.65],[76.4,1.2],[73.0,1.0],[71.4,1.85],[70.2,1.2],[69.0,1.8],[74.6,1.6],[72.2,1.25],[73.4,1.82],[75.4,1.72],[71.8,1.45],[70.8,1.05],[72.6,1.58],[74.2,1.1],
[64.8,0.75],[66.0,0.6],[67.2,0.85],[68.2,0.65],[69.0,0.95],[69.8,0.55],[70.5,0.8],[71.0,0.62],[71.6,0.9],[72.1,0.7],[72.6,0.52],[73.1,0.85],[73.6,0.68],[74.1,0.95],[74.6,0.58],[75.2,0.82],[75.8,0.9],[68.8,0.78],[70.2,0.98],[72.8,0.95],[74.8,0.72],[67.5,0.55],[71.3,0.78],
[66.5,0.42],[67.5,0.25],[68.4,0.35],[69.2,0.15],[69.9,0.4],[70.5,0.28],[71.0,0.12],[71.5,0.35],[72.0,0.22],[72.5,0.45],[73.0,0.3],[73.5,0.18],[74.0,0.38],[74.5,0.25],[75.0,0.35],[68.0,0.1],[70.8,0.47],[72.3,0.08],[73.8,0.45],[76.5,0.2],[65.5,0.3],[67.0,0.15],
[69.2,1.32],[69.8,1.62],[70.4,0.92],[70.9,1.52],[71.4,1.08],[71.9,1.72],[72.3,0.88],[72.7,1.32],[73.1,1.58],[73.5,0.95],[73.9,1.22],[74.3,1.52],[74.7,0.92],[75.1,1.28],[75.5,1.05],[75.9,1.42],[76.3,0.98],[72.1,1.18],[73.3,1.42],[74.5,1.38],[71.1,0.52],[72.9,0.62],[74.3,0.52],[68.5,0.48],[69.6,0.25],[71.8,0.28],[73.2,0.42],[74.8,0.15],[76.0,0.3],[70.2,1.62],[68.4,1.95],[67.6,2.25],[70.8,2.15],[72.4,2.32],[74.6,2.05],[69.4,2.55],[76.2,1.85],[75.4,0.55],[66.2,1.05],[65.8,1.85],
[68.9,1.05],[69.5,0.72],[70.1,1.35],[70.6,0.62],[71.0,1.82],[71.5,1.22],[71.9,0.58],[72.4,1.62],[72.8,1.08],[73.3,0.78],[73.7,1.38],[74.1,1.65],[74.5,1.02],[74.9,0.85],[75.3,1.45],[75.7,1.15],[72.0,0.42],[73.0,0.22],[74.0,0.12],[75.0,0.22],[71.2,0.32],[70.0,0.15],[72.6,0.35],[73.6,0.3],[74.6,0.45],[69.8,2.0],[71.2,2.08],[72.6,1.92],[73.8,1.98],[70.5,1.48],[71.8,1.02],[73.2,1.22],[74.4,1.28],[75.6,1.62],[76.6,1.4],[68.6,1.62],[69.6,1.88],[72.2,0.75],[73.4,0.62],[75.0,0.68]];
const swS2_C4 = [[5.1,0.04],[13.4,0.07],[16.2,0.39],[28.0,0.69],[30.7,1.39],[40.6,1.4],[42.6,1.49],[43.9,1.93],[47.5,2.41],[50.0,0.73],[50.8,0.97],[52.8,1.91],[56.6,2.87],[56.6,2.07],[57.0,0.98],[57.9,0.97],[58.8,1.7],[59.7,0.55],[60.1,0.18],[60.6,2.18],[59.7,1.26],[59.7,1.43],[75.2,2.46],[76.1,2.42],[60.5,0.75],[61.0,1.05],[61.8,1.6],[62.2,0.35],[61.5,0.25],
[64.0,2.2],[65.2,2.05],[66.0,2.35],[66.8,2.15],[67.5,2.45],[68.2,2.25],[69.0,2.05],[69.7,2.38],[70.4,2.2],[71.1,2.55],[71.8,2.3],[72.5,2.1],[73.2,2.42],[70.0,2.58],[67.0,2.0],[68.8,2.5],[65.6,2.5],[72.8,2.25],
[62.5,1.7],[63.5,1.85],[64.3,1.55],[65.0,1.95],[65.7,1.7],[66.4,1.52],[67.1,1.88],[67.8,1.65],[68.5,1.95],[69.2,1.58],[69.9,1.8],[70.6,1.62],[71.3,1.92],[72.0,1.7],[72.7,1.55],[73.4,1.85],[64.8,1.75],[66.7,1.98],[68.2,1.52],[70.2,1.95],[62.0,1.55],[71.0,1.75],[63.9,1.6],
[61.8,1.2],[62.7,1.35],[63.5,1.1],[64.2,1.45],[64.9,1.25],[65.6,1.05],[66.3,1.38],[67.0,1.15],[67.7,1.45],[68.4,1.02],[69.1,1.3],[69.8,1.12],[70.5,1.42],[71.2,1.2],[71.9,1.0],[72.6,1.35],[63.0,1.48],[66.0,1.2],[68.0,1.28],[70.0,1.35],[65.2,1.42],[67.4,1.05],[69.5,1.48],[62.4,1.05],
[61.5,0.7],[62.3,0.85],[63.1,0.58],[63.8,0.95],[64.5,0.72],[65.2,0.55],[65.9,0.88],[66.6,0.65],[67.3,0.98],[68.0,0.75],[68.7,0.52],[69.4,0.85],[70.1,0.68],[70.8,0.95],[71.5,0.6],[72.2,0.82],[64.0,0.62],[66.2,0.8],[68.4,0.9],[62.7,0.52],[69.8,0.55],[67.6,0.6],[65.5,0.98],
[62.5,0.4],[63.5,0.3],[64.2,0.45],[65.0,0.22],[65.8,0.38],[66.5,0.15],[67.2,0.32],[68.0,0.45],[68.8,0.25],[69.5,0.38],[70.3,0.12],[64.8,0.35],[66.9,0.48],[63.0,0.18],[61.2,0.42],[67.8,0.1],
[65.5,1.6],[66.5,1.1],[67.5,1.6],[68.5,1.15],[69.5,1.7],[66.8,0.72],[68.8,1.85],[67.2,1.35],[65.8,1.85],[69.0,0.98],[70.5,2.0],[64.5,1.0],[66.0,1.6],[68.0,2.1],[67.0,0.55],[69.2,1.38],
[62.8,1.95],[63.6,1.32],[64.4,0.85],[64.8,2.05],[65.3,1.28],[65.7,0.62],[66.1,1.72],[66.5,2.15],[66.9,0.92],[67.3,1.48],[67.7,1.92],[68.1,0.58],[68.5,1.38],[68.9,2.22],[69.3,0.78],[69.7,1.22],[70.1,1.62],[70.5,0.88],[70.9,2.12],[71.3,1.48],[71.7,0.82],[72.1,1.88],[72.5,1.22],[63.2,0.82],[64.0,1.72],[65.0,1.12],[66.0,0.45],[67.0,1.78],[68.0,1.05],[69.0,1.52],[70.0,0.72],[71.0,1.32],[72.0,2.08],[62.0,0.95],[63.8,2.35],[66.4,2.42],[68.6,0.35],[70.6,0.45],[65.6,1.88],[67.8,2.32],[69.6,1.98],[64.6,1.62],[66.8,1.22],[68.2,1.72],[70.4,1.08],[71.6,1.68],[63.4,0.48],[62.6,1.15],
[62.2,0.62],[62.9,1.02],[63.3,1.62],[63.7,0.42],[64.1,2.12],[64.7,1.32],[65.1,0.78],[65.4,1.78],[65.9,2.22],[66.3,0.52],[66.6,1.45],[67.0,0.88],[67.4,2.08],[67.7,1.28],[68.1,0.68],[68.4,1.82],[68.7,2.38],[69.1,1.12],[69.4,0.62],[69.8,1.52],[70.2,2.28],[70.6,1.02],[71.0,1.62],[71.4,0.68],[71.8,2.02],[64.4,1.88],[65.8,1.12],[67.2,0.42],[68.6,1.58],[70.0,1.18],[62.4,1.82],[63.9,1.08],[65.5,2.32],[66.9,1.68],[68.3,0.95],[69.7,2.12],[71.1,0.92],[63.1,0.72],[64.6,0.55],[66.1,0.95],[67.5,1.38],[68.9,1.72],[70.3,0.55],[71.7,1.42],[62.0,1.35],[63.4,2.05],[64.9,1.52],[66.3,1.98],[67.9,2.18],[69.3,2.42],[65.2,0.32],[66.7,0.25],[68.2,0.2],[69.2,0.48],[64.0,1.28],[65.6,1.48],[67.1,1.05],[68.8,1.22],[70.4,1.72],[66.0,1.75]];

// ---------- Small-world network, S1+S3 ----------
const swS3_C1 = [[11,0.05],[38,0.86],[43,0.65],[74,1.23],[81,1.05],[89,1.38],[96,1.73],[138,2.6],[164,2.79],[128,2.65],[245,2.44],[394,3.37],[489,3.14],[528,3.11],[451,2.93],[383,2.76],[419,2.77],[745,3.28],[717,2.69],[709,2.46],[736,2.28],[794,2.4],[706,1.96],[745,1.9],[741,1.61],[724,1.48],[1049,0.93],[1387,0.87],[1394,0.42],[1415,0.7],[1394,0.22],[1443,0.54],[1475,0.13],[1777,0.73],[1783,0.65],[1745,0.42],[1766,0.39],[1734,0.27],[1755,0.09],[1834,0.23],[1053,0.27],[1006,0.09],[1034,0.09],[770,0.23],[666,0.21],[681,0.11],[643,0.15],[602,0.09],[692,0.1],[2107,0.69],[2117,0.68],[2107,0.55],[2085,0.47],[2113,0.37],[2085,0.32],[2107,0.23],[2117,0.17],[2096,0.09],[2120,0.6],[350,0.05],[330,0.15],[310,0.22],[0,0.9],[60,1.5],[90,1.2],[100,0.6],[120,0.3],[140,0.15],[110,1.9],[105,2.55],
[130,2.3],[160,2.45],[190,2.2],[220,2.4],[145,2.0],[175,1.85],[205,2.05],[235,1.75],[135,1.6],[165,1.45],[195,1.65],[225,1.35],[150,1.2],[180,1.05],[210,1.25],[240,0.95],[140,0.85],[170,0.65],[200,0.8],[230,0.55],[155,0.45],[185,0.3],[215,0.4],[125,0.5],[165,0.2],[200,0.15],[240,0.3],[255,0.42],[260,0.9],[250,1.6],[265,2.4],
[300,1.5],[310,1.2],[318,0.9],[325,0.6],[332,0.4],[338,1.7],[345,1.35],[350,1.05],[356,0.75],[362,2.2],[368,1.9],[373,1.55],[378,1.25],[383,0.95],[388,0.65],[392,0.35],[397,2.45],[402,2.1],[406,1.75],[410,1.45],[414,1.15],[418,0.85],[422,0.55],[426,0.25],[430,2.3],[434,2.0],[438,1.7],[442,1.4],[446,1.1],[450,0.8],[454,0.5],[458,2.2],[462,1.85],[466,1.55],[470,1.25],[474,0.95],[478,0.65],[483,2.05],[488,1.65],[493,1.35],[498,1.05],[505,1.6],[512,1.68],[520,1.3],[535,1.7],[380,2.55],[395,2.65],[420,2.55],[440,2.6],[470,2.45],[360,1.4],[370,1.1],[385,1.6],[395,1.15],[405,1.35],[415,1.65],[425,1.95],[435,1.25],[445,1.55],[455,1.85],[465,2.15],[475,1.75],[490,2.3],[400,0.75],[410,0.45],[420,0.3],[390,0.2],[375,0.15],[360,0.45],[440,0.35],[460,0.28],[350,0.55],[340,2.0],[330,1.85],[320,1.6],[390,1.85],[400,1.2],[412,1.0],[428,1.18],[445,0.92],[385,1.02],[398,0.55],[500,0.7],[520,0.95],[478,0.4],[455,1.3],[425,1.45],[408,2.25],[448,2.35],
[305,1.85],[315,0.72],[328,1.28],[335,0.88],[342,1.52],[352,1.85],[358,1.15],[366,0.82],[372,1.72],[380,0.52],[387,1.32],[394,1.75],[403,0.95],[409,1.62],[416,2.02],[423,0.72],[431,1.48],[437,2.15],[444,1.22],[451,1.72],[457,0.65],[463,1.42],[469,1.95],[476,1.12],[484,1.45],[492,1.85],[502,1.25],[515,1.45],[396,1.48],[418,1.28]];
const swS3_C4 = [[447,2.89],[755,1.39],[762,2.33],[532,0.06],[1783,0.68],[2113,0.39],[155,0.09],[300,0.25],[320,0.3],[290,0.4],[250,0.75],[270,1.2],[280,1.6],[100,1.5],[520,1.0],[480,0.3],
[150,2.55],[170,2.42],[185,2.6],[200,2.35],[215,2.5],[160,2.2],[180,2.3],[195,2.1],[210,2.25],[225,2.05],[145,2.35],[175,2.0],[205,2.45],
[135,1.95],[150,1.75],[165,1.88],[178,1.6],[190,1.82],[203,1.55],[216,1.9],[228,1.7],[142,1.55],[172,1.98],[198,1.68],[222,1.52],[158,1.62],[185,1.92],[240,1.8],
[130,1.45],[145,1.25],[160,1.4],[172,1.1],[185,1.35],[198,1.05],[210,1.45],[222,1.2],[235,1.38],[152,1.05],[178,1.48],[204,1.25],[228,1.02],[140,1.12],[190,1.18],[250,1.3],[165,1.3],
[128,0.85],[142,0.7],[155,0.95],[168,0.78],[182,0.62],[195,0.9],[208,0.72],[220,0.88],[232,0.65],[148,0.6],[175,0.92],[200,0.68],[215,0.98],[160,0.82],[188,0.75],[240,0.8],
[140,0.4],[165,0.5],[190,0.38],[215,0.55],[235,0.45],[175,0.35],[205,0.42],[150,0.52],[195,0.18],[180,0.1],
[125,2.25],[138,2.48],[152,2.12],[166,2.58],[180,2.18],[194,2.52],[208,2.08],[222,2.35],[236,2.2],[130,1.82],[144,1.62],[158,1.98],[172,1.72],[186,1.55],[200,1.88],[214,1.65],[228,1.92],[242,1.58],[128,1.22],[142,1.38],[156,1.18],[170,1.42],[184,1.08],[198,1.32],[212,1.15],[226,1.42],[240,1.12],[132,0.72],[146,0.92],[160,0.65],[174,0.85],[188,0.98],[202,0.62],[216,0.78],[230,0.92],[244,0.62],[135,0.52],[162,0.38],[188,0.52],[212,0.35],[238,0.55],[120,0.95],[252,1.05],[118,1.65],[256,2.05],
[126,0.62],[140,0.82],[154,0.48],[168,0.95],[182,0.72],[196,0.55],[210,0.88],[224,0.58],[238,0.75],[132,1.08],[146,1.32],[160,1.15],[174,1.22],[188,1.45],[202,1.12],[216,1.35],[230,1.28],[136,1.72],[150,1.52],[164,1.78],[178,1.92],[192,1.62],[206,1.78],[220,1.62],[234,1.88],[140,2.12],[154,2.32],[168,2.08],[182,2.45],[196,2.22],[210,2.38],[224,2.15],[148,2.52],[176,2.55],[204,2.58],[158,1.05],[186,1.25],[214,1.02],[172,1.58],[200,1.42],
[330,0.5],[340,0.8],[350,1.1],[360,0.6],[370,0.95],[380,1.3],[390,0.7],[400,1.05],[410,1.4],[420,0.85],[430,1.2],[440,0.6],[450,1.0],[460,0.8],[470,1.15],[345,1.45],[365,1.7],[385,1.55],[405,1.75],[425,1.6],[445,1.45],[380,0.45],[400,0.3],[420,0.5],[440,0.25],[395,1.9],[415,2.1],[435,1.85],[375,2.05],[455,1.65],[355,0.35],[475,0.5],[410,0.95],[390,1.2],[430,0.95],[365,1.3],
[335,0.65],[345,0.95],[355,1.25],[362,0.85],[372,1.42],[382,1.08],[392,0.95],[402,1.48],[412,0.68],[422,1.15],[432,1.42],[442,0.82],[452,1.28],[462,1.02],[472,0.75],[382,1.82],[402,1.95],[422,1.82],[442,1.92],[362,1.55]];

// ---------- styling ----------
const C1_COLOR = 'rgb(1,115,178)';
const C4_COLOR = 'rgb(204,120,188)';
const C1_FILL = 'rgba(1,115,178,0.5)';
const C4_FILL = 'rgba(204,120,188,0.46)';
const SANS = '"Liberation Sans", Arial, sans-serif';
const SERIF = '"Liberation Serif", "Times New Roman", serif';

const toXY = arr => arr.map(p => ({x: p[0], y: p[1]}));

function makePanel(id, cfg) {
  const plugins = [{
    id: 'frameTitle',
    afterDatasetsDraw(chart) {
      const ca = chart.chartArea, ctx = chart.ctx;
      ctx.save();
      ctx.lineWidth = 1.8; ctx.strokeStyle = '#000';
      ctx.strokeRect(ca.left, ca.top, ca.right - ca.left, ca.bottom - ca.top);
      ctx.restore();
    },
    afterDraw(chart) {
      const ca = chart.chartArea, ctx = chart.ctx;
      ctx.save();
      ctx.font = '23.5px ' + SANS; ctx.fillStyle = '#000';
      ctx.textAlign = 'center'; ctx.textBaseline = 'middle';
      ctx.fillText(cfg.title, (ca.left + ca.right) / 2, ca.top - 22);
      if (cfg.legend) {
        const L = ca.left, T = ca.top;
        const bx = L + 144, by = T + 12, bw = 186, bh = 68;
        ctx.beginPath(); ctx.roundRect(bx, by, bw, bh, 5);
        ctx.fillStyle = 'rgba(255,255,255,0.8)'; ctx.fill();
        ctx.lineWidth = 1.3; ctx.strokeStyle = '#cccccc'; ctx.stroke();
        const rows = [{c: C1_COLOR, sub: '1', t: cfg.legend[0], y: T + 31}, {c: C4_COLOR, sub: '4', t: cfg.legend[1], y: T + 60}];
        rows.forEach(rw => {
          ctx.beginPath(); ctx.arc(L + 174, rw.y, 5.5, 0, 2 * Math.PI);
          ctx.fillStyle = rw.c; ctx.fill();
          ctx.fillStyle = '#000'; ctx.textAlign = 'left'; ctx.textBaseline = 'alphabetic';
          const base = rw.y + 7;
          ctx.font = 'italic 22px ' + SERIF; ctx.fillText('C', L + 210, base);
          ctx.font = '15px ' + SERIF; ctx.fillText(rw.sub, L + 225, base + 3);
          ctx.font = '20.5px ' + SANS; ctx.fillText('(' + rw.t + ')', L + 246, base);
        });
      }
      ctx.restore();
    }
  }];
  const tickFont = {family: SERIF, size: 21};
  const titleFont = {family: SANS, size: 23.5};
  return new Chart(document.getElementById(id), {
    type: 'scatter',
    data: {datasets: [
      {data: toXY(cfg.box), showLine: true, borderColor: '#000', borderWidth: 2, pointRadius: 0, fill: false, tension: 0},
      {data: toXY(cfg.target), pointRadius: 9, pointBackgroundColor: '#000', pointBorderWidth: 0},
      {data: toXY(cfg.c4), pointRadius: 2.5, pointBackgroundColor: C4_FILL, pointBorderWidth: 0},
      {data: toXY(cfg.c1), pointRadius: 2.5, pointBackgroundColor: C1_FILL, pointBorderWidth: 0}
    ]},
    options: {
      responsive: false, animation: false, devicePixelRatio: 1, events: [],
      layout: {autoPadding: false, padding: {left: 0, right: cfg.rightPad, top: 43, bottom: 24}},
      plugins: {legend: {display: false}, tooltip: {enabled: false}, title: {display: false}},
      scales: {
        x: {
          type: 'linear', min: 0, max: cfg.xMax,
          afterBuildTicks: s => { s.ticks = cfg.xTicks.map(v => ({value: v})); },
          afterFit: s => { s.height = 80; s.paddingLeft = 0; s.paddingRight = 0; },
          grid: {drawOnChartArea: false, drawTicks: true, tickLength: 7, tickWidth: 1.4, tickColor: '#000', color: '#000'},
          border: {display: false},
          ticks: {font: tickFont, color: '#000', padding: 9, maxRotation: 0, autoSkip: false, callback: v => String(v)},
          title: {display: true, text: cfg.xTitle, font: titleFont, color: '#000', padding: {top: 0, bottom: 5.9}}
        },
        y: {
          type: 'linear', min: 0, max: 3.5,
          afterBuildTicks: s => { s.ticks = yTicks.map(v => ({value: v})); },
          afterFit: s => { s.width = cfg.yWidth; s.paddingTop = 0; s.paddingBottom = 0; },
          grid: {drawOnChartArea: false, drawTicks: true, tickLength: 7, tickWidth: 1.4, tickColor: '#000', color: '#000'},
          border: {display: false},
          ticks: {font: tickFont, color: '#000', padding: 11.5, autoSkip: false, callback: v => String(v)},
          title: {display: !!cfg.yTitle, text: cfg.yTitle || '', font: titleFont, color: '#000', padding: {top: 10.9, bottom: 0}}
        }
      }
    },
    plugins
  });
}

const leftBase = {xMax: 90, xTicks: xTicksDecline, xTitle: 'Population decline (%)', yTitle: 'Endemic prevelence (%)', yWidth: 77, rightPad: 4, box: boxDecline, target: targetDecline};
const rightBase = {xMax: 2175, xTicks: xTicksDays, xTitle: 'Time till peak (days)', yTitle: null, yWidth: 73.3, rightPad: 0, box: boxDays, target: targetDays};

makePanel('c0', Object.assign({}, leftBase, {title: titles[0], c1: rndS2_C1, c4: rndS2_C4}));
makePanel('c1', Object.assign({}, rightBase, {title: titles[1], c1: rndS3_C1, c4: rndS3_C4, legend: legendRandom}));
makePanel('c2', Object.assign({}, leftBase, {title: titles[2], c1: sfS2_C1, c4: sfS2_C4}));
makePanel('c3', Object.assign({}, rightBase, {title: titles[3], c1: sfS3_C1, c4: sfS3_C4, legend: legendScaleFree}));
makePanel('c4', Object.assign({}, leftBase, {title: titles[4], c1: swS2_C1, c4: swS2_C4}));
makePanel('c5', Object.assign({}, rightBase, {title: titles[5], c1: swS3_C1, c4: swS3_C4, legend: legendSmallWorld}));
</script>
</body></html>
